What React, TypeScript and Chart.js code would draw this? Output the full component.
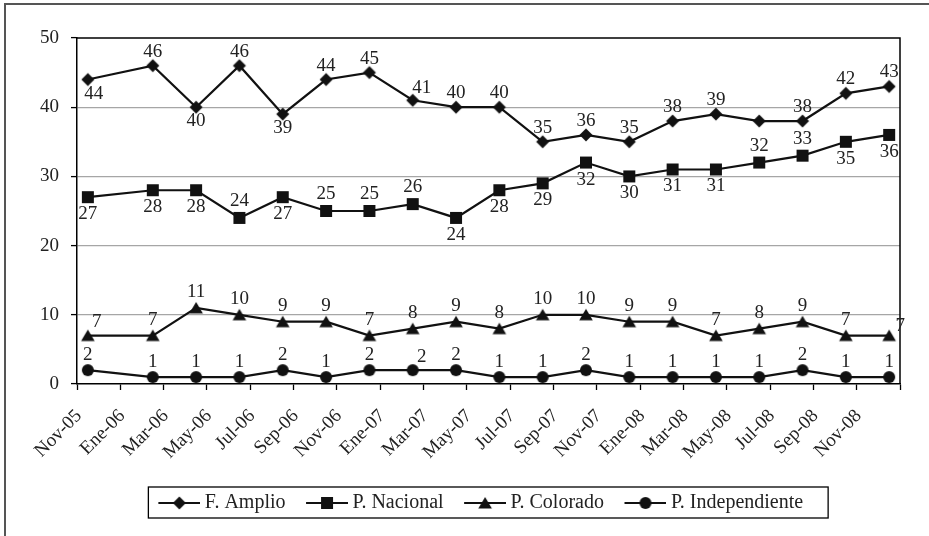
import React, { useEffect, useRef } from 'react';
import { Chart, registerables } from 'chart.js';

Chart.register(...registerables);

const FONT = '"Liberation Serif", "Times New Roman", serif';
const INK = '#111111';
const TEXT = '#222222';

// ---- data ----
const axisTickLabels = [
  'Nov-05', 'Ene-06', 'Mar-06', 'May-06', 'Jul-06', 'Sep-06', 'Nov-06', 'Ene-07', 'Mar-07', 'May-07',
  'Jul-07', 'Sep-07', 'Nov-07', 'Ene-08', 'Mar-08', 'May-08', 'Jul-08', 'Sep-08', 'Nov-08',
];
const surveyDates = [
  'Nov-05', 'Feb-06', 'Abr-06', 'Jun-06', 'Ago-06', 'Oct-06', 'Dic-06', 'Feb-07', 'Abr-07', 'Jun-07',
  'Ago-07', 'Oct-07', 'Dic-07', 'Feb-08', 'Abr-08', 'Jun-08', 'Ago-08', 'Oct-08', 'Dic-08',
];
const seriesNames = ['F. Amplio', 'P. Nacional', 'P. Colorado', 'P. Independiente'];
const fAmplio = [44, 46, 40, 46, 39, 44, 45, 41, 40, 40, 35, 36, 35, 38, 39, 38, 38, 42, 43];
const pNacional = [27, 28, 28, 24, 27, 25, 25, 26, 24, 28, 29, 32, 30, 31, 31, 32, 33, 35, 36];
const pColorado = [7, 7, 11, 10, 9, 9, 7, 8, 9, 8, 10, 10, 9, 9, 7, 8, 9, 7, 7];
const pIndependiente = [2, 1, 1, 1, 2, 1, 2, 2, 2, 1, 1, 2, 1, 1, 1, 1, 2, 1, 1];

// label placement: a = above, b = below, ar = above-right, br = below-right, r = right, '' = hidden
const placeAmplio = ['br', 'a', 'b', 'a', 'b', 'a', 'a', 'ar', 'a', 'a', 'a', 'a', 'a', 'a', 'a', '', 'a', 'a', 'a'];
const placeNacional = ['b', 'b', 'b', 'a', 'b', 'a', 'a', 'a', 'b', 'b', 'b', 'b', 'b', 'b', 'b', 'a', 'a', 'b', 'b'];
const placeColorado = ['ar', 'a', 'a', 'a', 'a', 'a', 'a', 'a', 'a', 'a', 'a', 'a', 'a', 'a', 'a', 'a', 'a', 'a', 'r'];
const placeIndep = ['a', 'a', 'a', 'a', 'a', 'a', 'a', 'ar', 'a', 'a', 'a', 'a', 'a', 'a', 'a', 'a', 'a', 'a', 'a'];

const MONTHS = ['Ene', 'Feb', 'Mar', 'Abr', 'May', 'Jun', 'Jul', 'Ago', 'Sep', 'Oct', 'Nov', 'Dic'];
function monthNumber(label: string): number {
  const [m, y] = label.split('-');
  return (2000 + Number(y)) * 12 + MONTHS.indexOf(m);
}
const origin = monthNumber(axisTickLabels[0]);
const xPos = surveyDates.map((d) => monthNumber(d) - origin + 0.5);
const axisMax = axisTickLabels.length * 2;

type Shape = 'diamond' | 'square' | 'triangle' | 'circle';
const shapes: Shape[] = ['diamond', 'square', 'triangle', 'circle'];
const seriesValues = [fAmplio, pNacional, pColorado, pIndependiente];
const seriesPlacement = [placeAmplio, placeNacional, placeColorado, placeIndep];
const labelGap = [14, 17, 16, 15];

function drawShape(ctx: CanvasRenderingContext2D, shape: Shape, cx: number, cy: number) {
  ctx.beginPath();
  if (shape === 'diamond') {
    ctx.moveTo(cx, cy - 6.5); ctx.lineTo(cx + 6.5, cy); ctx.lineTo(cx, cy + 6.5); ctx.lineTo(cx - 6.5, cy);
    ctx.closePath();
  } else if (shape === 'square') {
    ctx.rect(cx - 6, cy - 6, 12, 12);
  } else if (shape === 'triangle') {
    ctx.moveTo(cx, cy - 6); ctx.lineTo(cx + 6.8, cy + 5.5); ctx.lineTo(cx - 6.8, cy + 5.5);
    ctx.closePath();
  } else {
    ctx.arc(cx, cy, 6, 0, Math.PI * 2);
  }
  ctx.fill();
}

function makeMarker(shape: Shape): HTMLCanvasElement {
  const c = document.createElement('canvas');
  c.width = 16; c.height = 16;
  const ctx = c.getContext('2d')!;
  ctx.fillStyle = INK;
  drawShape(ctx, shape, 8, 8);
  return c;
}

function makeLegendSymbol(shape: Shape): HTMLCanvasElement {
  const c = document.createElement('canvas');
  c.width = 51; c.height = 20;
  const ctx = c.getContext('2d')!;
  ctx.strokeStyle = INK;
  ctx.fillStyle = INK;
  ctx.lineWidth = 2;
  ctx.beginPath();
  ctx.moveTo(9, 10); ctx.lineTo(51, 10);
  ctx.stroke();
  drawShape(ctx, shape, 30, 10);
  return c;
}

const labelPlugin = {
  id: 'pointLabels',
  afterDatasetsDraw(chart: any) {
    const ctx = chart.ctx as CanvasRenderingContext2D;
    ctx.save();
    ctx.font = `19px ${FONT}`;
    ctx.fillStyle = TEXT;
    ctx.textAlign = 'center';
    ctx.textBaseline = 'middle';
    chart.data.datasets.forEach((ds: any, i: number) => {
      const meta = chart.getDatasetMeta(i);
      const gap = labelGap[i];
      meta.data.forEach((pt: any, j: number) => {
        const code = seriesPlacement[i][j];
        if (!code) return;
        let dx = 0, dy = -gap;
        if (code === 'b') dy = gap;
        else if (code === 'ar') { dx = 9; dy = -gap + 2; }
        else if (code === 'br') { dx = 6; dy = gap; }
        else if (code === 'r') { dx = 11; dy = -10; }
        ctx.fillText(String(seriesValues[i][j]), pt.x + dx, pt.y + dy);
      });
    });
    ctx.restore();
  },
};

const framePlugin = {
  id: 'frame',
  beforeDatasetsDraw(chart: any) {
    const { ctx, chartArea: a } = chart;
    ctx.save();
    ctx.strokeStyle = '#000';
    ctx.lineWidth = 1.5;
    ctx.beginPath();
    ctx.moveTo(a.left, a.top); ctx.lineTo(a.right, a.top); ctx.lineTo(a.right, a.bottom);
    ctx.stroke();
    ctx.restore();
  },
  afterLayout(chart: any) {
    const lg = chart.legend;
    if (lg) { lg.left -= 9.5; lg.right -= 9.5; }
  },
  afterDraw(chart: any) {
    const lg = chart.legend;
    if (!lg || !lg.legendHitBoxes || !lg.legendHitBoxes.length) return;
    const hb = lg.legendHitBoxes;
    const first = hb[0];
    const last = hb[hb.length - 1];
    const cy = first.top + first.height / 2;
    const left = first.left - 6.5;
    const right = last.left + last.width + 25;
    const { ctx } = chart;
    ctx.save();
    ctx.strokeStyle = '#000';
    ctx.lineWidth = 1.3;
    ctx.strokeRect(left, cy - 16, right - left, 31);
    ctx.restore();
  },
};

export default function App() {
  const ref = useRef<HTMLCanvasElement | null>(null);

  useEffect(() => {
    if (!ref.current) return;
    const legendSymbols = shapes.map(makeLegendSymbol);
    const markers = shapes.map(makeMarker);
    const chart = new Chart(ref.current, {
      type: 'line',
      data: {
        datasets: seriesNames.map((name, i) => ({
          label: name,
          data: seriesValues[i].map((v, j) => ({ x: xPos[j], y: v })),
          borderColor: INK,
          backgroundColor: INK,
          borderWidth: 2.2,
          pointStyle: markers[i] as any,
          pointRadius: 6,
          tension: 0,
          fill: false,
        })),
      },
      options: {
        animation: false,
        responsive: false,
        devicePixelRatio: 1,
        layout: { padding: { left: 0, top: 38, right: 29, bottom: 13 } },
        plugins: {
          tooltip: { enabled: false },
          legend: {
            position: 'bottom',
            fullSize: false,
            align: 'center',
            labels: {
              usePointStyle: true,
              pointStyleWidth: 40,
              boxHeight: 20,
              padding: 17,
              color: TEXT,
              font: { family: FONT, size: 20 },
              generateLabels: (c: any) =>
                c.data.datasets.map((ds: any, i: number) => ({
                  text: ds.label,
                  fillStyle: 'transparent',
                  strokeStyle: 'transparent',
                  lineWidth: 0,
                  pointStyle: legendSymbols[i],
                  rotation: 0,
                  hidden: false,
                  datasetIndex: i,
                  fontColor: TEXT,
                })),
            },
          },
        },
        scales: {
          x: {
            type: 'linear',
            min: 0,
            max: axisMax,
            afterFit: (s: any) => {
              s.height = 92;
              s.paddingLeft = 0;
              s.paddingRight = 0;
            },
            afterBuildTicks: (s: any) => {
              const t = [];
              for (let v = 0; v <= axisMax; v += 2) t.push({ value: v });
              s.ticks = t;
            },
            grid: { drawOnChartArea: false, drawTicks: true, tickLength: 6, tickColor: '#000', tickWidth: 1.3 },
            border: { display: true, color: '#000', width: 1.5 },
            ticks: {
              autoSkip: false,
              minRotation: 45,
              maxRotation: 45,
              padding: 15,
              labelOffset: 2,
              color: TEXT,
              font: { family: FONT, size: 19 },
              callback: (v: any) => axisTickLabels[Math.round(Number(v) / 2)] ?? '',
            },
          },
          y: {
            min: 0,
            max: 50,
            afterFit: (s: any) => { s.width = 77; },
            grid: {
              color: (c: any) => (c.tick && (c.tick.value === 0 || c.tick.value === 50) ? 'rgba(0,0,0,0)' : '#a6a6a6'),
              lineWidth: 1.2,
              drawTicks: true,
              tickLength: 6,
              tickColor: '#000',
              tickWidth: 1.3,
            },
            border: { display: true, color: '#000', width: 1.5 },
            ticks: {
              stepSize: 10,
              padding: 12,
              color: TEXT,
              font: { family: FONT, size: 19 },
            },
          },
        },
      } as any,
      plugins: [labelPlugin, framePlugin],
    });
    return () => chart.destroy();
  }, []);

  return (
    <div style={{ position: 'fixed', left: 0, top: 0, width: 929, height: 536, background: '#fff', overflow: 'hidden' }}>
      <div
        style={{
          position: 'absolute', left: 4, top: 3, width: 1000, height: 1000,
          borderTop: '2px solid #555', borderLeft: '2px solid #555', boxSizing: 'border-box',
        }}
      />
      <canvas ref={ref} width={929} height={536} style={{ position: 'absolute', left: 0, top: 0, display: 'block' }} />
    </div>
  );
}
